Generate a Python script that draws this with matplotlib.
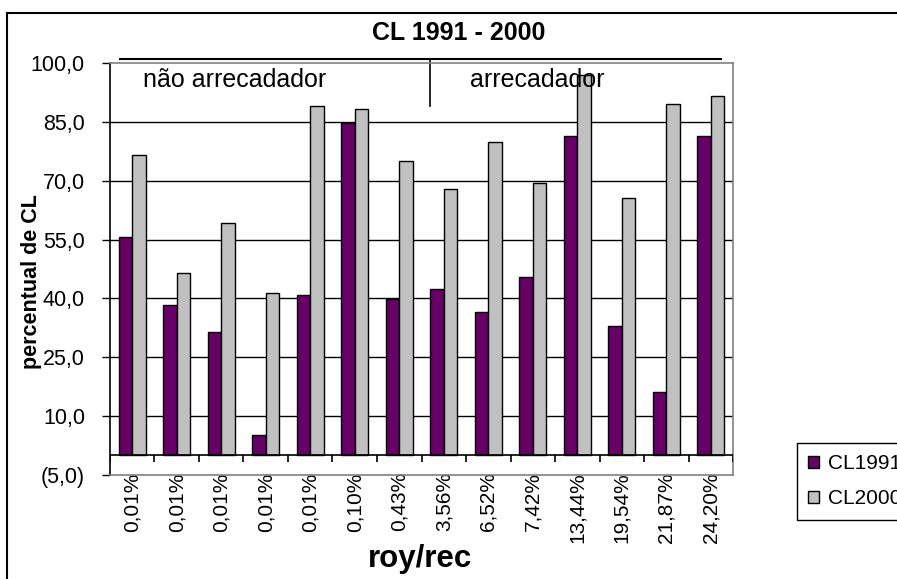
import numpy as np
import matplotlib.pyplot as plt
from matplotlib.patches import Rectangle
from matplotlib.ticker import FuncFormatter

plt.rcParams['font.family'] = ['Liberation Sans', 'DejaVu Sans']

# dados
categorias = ["0,01%", "0,01%", "0,01%", "0,01%", "0,01%", "0,10%", "0,43%",
              "3,56%", "6,52%", "7,42%", "13,44%", "19,54%", "21,87%", "24,20%"]
cl1991 = [55.6, 38.3, 31.5, 5.1, 40.8, 84.6, 39.8, 42.3, 36.6, 45.5, 81.5, 33.1, 16.2, 81.5]
cl2000 = [76.5, 46.4, 59.1, 41.3, 89.1, 88.2, 74.9, 67.8, 79.9, 69.3, 97.0, 65.7, 89.6, 91.7]
yticks = [-5, 10, 25, 40, 55, 70, 85, 100]
grupos = ["não arrecadador", "arrecadador"]
n_nao = 7  # primeiros 7 = não arrecadador

def fmt(v, pos):
  s = f"{abs(v):.1f}".replace('.', ',')
  return f"({s})" if v < 0 else s

fig = plt.figure(figsize=(8.97, 5.79), dpi=100)
ax = fig.add_axes([0.1226, 0.1796, 0.6946, 0.7116])

x = np.arange(len(categorias))
w = 0.3
ax.bar(x - w / 2, cl1991, w, color="#660066", edgecolor="black", linewidth=1, label="CL1991", zorder=2)
ax.bar(x + w / 2, cl2000, w, color="#C0C0C0", edgecolor="black", linewidth=1, label="CL2000", zorder=2)

ax.set_xlim(-0.5, len(categorias) - 0.5)
ax.set_ylim(yticks[0], yticks[-1])
ax.set_yticks(yticks)
ax.yaxis.set_major_formatter(FuncFormatter(fmt))
ax.tick_params(axis='y', length=6, width=1, pad=12, labelsize=15.5, direction='out')
ax.set_xticks(x)
ax.set_xticklabels(categorias, rotation=90, fontsize=15)
ax.tick_params(axis='x', length=0, pad=-2)

# grade
ax.grid(axis='y', color='black', linewidth=1, zorder=1)
ax.set_axisbelow(True)
gl = ax.get_ygridlines()
gl[0].set_visible(False)
gl[-1].set_visible(False)

for s in ['top', 'right', 'bottom']:
  ax.spines[s].set_color('#808080')
  ax.spines[s].set_linewidth(1.2)
ax.spines['left'].set_color('black')
ax.spines['left'].set_linewidth(1.2)

# eixo em zero com marcas entre categorias
ax.axhline(0, color='black', linewidth=1.2, zorder=3)
ax.vlines(np.arange(len(categorias) + 1) - 0.5, -1.6, 0, color='black', linewidth=1.2, zorder=3)

# chave dos grupos
ax.plot([-0.27, 13.24], [100.9, 100.9], color='black', linewidth=1.5, clip_on=False)
ax.plot([n_nao - 0.3, n_nao - 0.3], [100.9, 89], color='black', linewidth=1.2, clip_on=False)
ax.text(0.25, 95.7, grupos[0], fontsize=18, va='center', ha='left', zorder=5)
ax.text(7.6, 95.7, grupos[1], fontsize=18, va='center', ha='left', zorder=5)

fig.text(0.511, 0.943, "CL 1991 - 2000", fontsize=18, fontweight='bold', ha='center', va='center')
fig.text(0.0353, 0.514, "percentual de CL", fontsize=15.5, fontweight='bold', rotation=90, ha='center', va='center')
fig.text(0.468, 0.0212, "roy/rec", fontsize=22.5, fontweight='bold', ha='center', va='baseline')

# moldura externa
fig.patches.append(Rectangle((7 / 897, -0.1), 2, 1 - 13 / 579 + 0.1, transform=fig.transFigure,
                             fill=False, edgecolor='black', linewidth=1.5))

fig.legend(loc='upper left', bbox_to_anchor=(797 / 897, 1 - 443 / 579), fontsize=15,
           frameon=True, fancybox=False, edgecolor='black', framealpha=1,
           handlelength=0.5, handleheight=0.5, handletextpad=0.45, labelspacing=0.75,
           borderpad=0.55, borderaxespad=0)

plt.savefig("out.png", dpi=100)
